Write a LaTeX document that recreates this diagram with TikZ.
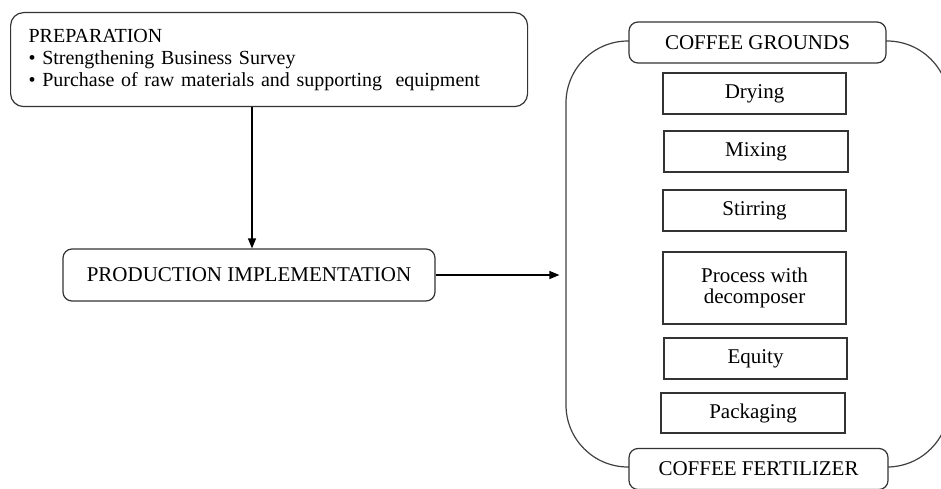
\documentclass[tikz,border=0pt]{standalone}
\usepackage{fontspec}
\setmainfont{Liberation Serif}
\usetikzlibrary{arrows.meta}
\begin{document}
\begin{tikzpicture}[x=1pt,y=-1pt,
  every node/.style={font=\fontsize{21}{21.5}\selectfont},
  rbox/.style={draw=black!80, line width=1.2pt, rounded corners=9pt, fill=white, inner sep=0pt, align=center},
  sbox/.style={draw=black!80, line width=1.2pt, fill=white, inner sep=0pt, align=center},
  frame/.style={draw=black!75, line width=1.2pt, rounded corners=62pt, inner sep=0pt},
  conn/.style={line width=1.2pt, -{Triangle[length=10pt,width=8pt]}}
]
\useasboundingbox (0,0) rectangle (941,489);
\clip (0,0) rectangle (941,489);
% preparation
\node[rbox, rounded corners=13pt, font=\fontsize{20}{22}\selectfont, align=left, text width=481pt, inner xsep=18pt, minimum height=94pt, anchor=north west] (prep) at (10,12)
  {PREPARATION\\
   \textbullet\ Strengthening Business Survey\\
   \textbullet\ Purchase of raw materials and supporting\ \ equipment};
% production
\node[rbox, minimum width=372pt, minimum height=52pt] (prod) at (249,275) {PRODUCTION IMPLEMENTATION};
% big frame
\node[frame, minimum width=383pt, minimum height=426pt] (frm) at (757.5,254) {};
% top and bottom boxes
\node[rbox, minimum width=257pt, minimum height=41pt] (cg) at (757.5,42.5) {COFFEE GROUNDS};
\node[rbox, minimum width=259pt, minimum height=41pt] (cf) at (758.5,469) {COFFEE FERTILIZER};
% steps
\node[sbox, minimum width=183pt, minimum height=41pt] (dry) at (754.5,93.5) {Drying};
\node[sbox, minimum width=184pt, minimum height=41pt] (mix) at (756,151.5) {Mixing};
\node[sbox, minimum width=183pt, minimum height=41pt] (stir) at (754.5,210.5) {Stirring};
\node[sbox, minimum width=183pt, minimum height=72pt] (proc) at (754.5,288) {Process with\\decomposer};
\node[sbox, minimum width=183pt, minimum height=41pt] (eq) at (755.5,358.5) {Equity};
\node[sbox, minimum width=184pt, minimum height=40pt] (pack) at (753,413) {Packaging};
% connectors
\draw[conn] ([xshift=3pt]prod.north |- prep.south) -- ([xshift=3pt]prod.north);
\draw[conn, shorten >=6pt] (prod.east) -- (frm.west |- prod.east);
\end{tikzpicture}
\end{document}
